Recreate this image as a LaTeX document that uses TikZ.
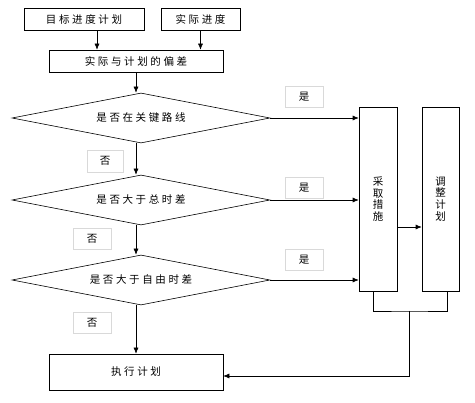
\documentclass[tikz,border=0pt]{standalone}
\usepackage{fontspec}
\setmainfont{Noto Sans CJK SC}[LetterSpace=25]
\usetikzlibrary{shapes.geometric,arrows.meta}
\tikzset{
  box/.style={draw, line width=0.6pt, inner sep=0pt},
  test/.style={diamond, draw, line width=0.6pt, aspect=5, inner sep=0pt,
    minimum width=258pt, minimum height=50pt},
  tag/.style={draw=black!15, fill=white, inner sep=0pt,
    minimum width=38pt, minimum height=21pt},
  go/.style={-{Latex[length=6pt,width=5pt]}, line width=0.6pt},
}
\begin{document}
\begin{tikzpicture}[x=1pt,y=-1pt,font=\fontsize{10.5}{11.8}\selectfont]
  \useasboundingbox (0,0) rectangle (475,403);
  \draw
    (84,19) node[box, minimum width=120pt, minimum height=22pt] (plan){目标进度计划}
    (200.5,19) node[box, minimum width=79pt, minimum height=22pt] (real){实际进度}
    (136,61) node[box, minimum width=174pt, minimum height=22pt] (dev){实际与计划的偏差}
    (141,118) node[test] (d1){是否在关键路线}
    (141,200) node[test] (d2){是否大于总时差}
    (141,280) node[test] (d3){是否大于自由时差}
    (136,372) node[box, minimum width=174pt, minimum height=36pt] (exec){执行计划}
    (378,199) node[box, minimum width=38pt, minimum height=184pt, align=center] (act){采\\取\\措\\施}
    (440.5,199) node[box, minimum width=37pt, minimum height=184pt, align=center] (adj){调\\整\\计\\划};
  \draw
    (304,96.5) node[tag] (y1){是}
    (304,188) node[tag] (y2){是}
    (304,259.5) node[tag] (y3){是}
    (105,161) node[tag, minimum width=36pt, minimum height=22pt] (n1){否}
    (92,238.5) node[tag] (n2){否}
    (92,322.5) node[tag] (n3){否};
  \coordinate (join) at (409,311);
  \begin{scope}[go]
    \draw ([xshift=13pt]plan.south) -- ([xshift=13pt]plan.south |- dev.north);
    \draw (real.south) -- (real.south |- dev.north);
    \draw (dev.south) -- (dev.south |- d1.north);
    \draw (d1.south -| dev) -- (d2.north -| dev);
    \draw (d2.south -| dev) -- (d3.north -| dev);
    \draw (d3.south -| exec) -- (exec.north);
    \draw (d1.east) -- (d1.east -| act.west);
    \draw (d2.east) -- (d2.east -| act.west);
    \draw (d3.east) -- (d3.east -| act.west);
    \draw ([yshift=-28pt]act.east) -- ([yshift=-28pt]adj.west);
    \draw (join) |- ([yshift=-4pt]exec.east);
  \end{scope}
  \draw[line width=0.6pt] ([xshift=-5pt]act.south) |- (join) -| ([xshift=6.5pt]adj.south);
\end{tikzpicture}
\end{document}
